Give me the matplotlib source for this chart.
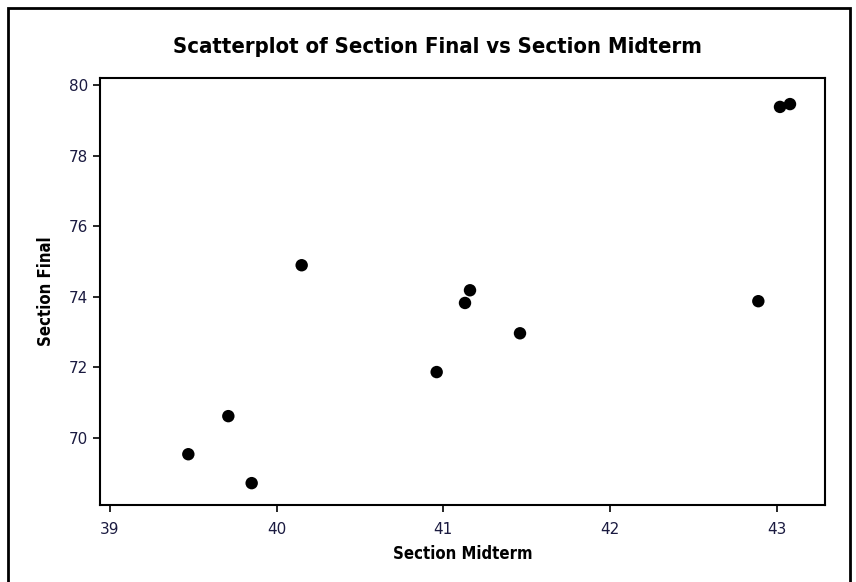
import matplotlib.pyplot as plt
from matplotlib.patches import Rectangle

# --- data ---
midterm = [39.47, 39.71, 39.85, 40.15, 40.96, 41.13, 41.16, 41.46, 42.89, 43.02, 43.08]
final = [69.53, 70.61, 68.71, 74.89, 71.86, 73.82, 74.18, 72.96, 73.87, 79.38, 79.46]
x_ticks = [39, 40, 41, 42, 43]
y_ticks = [70, 72, 74, 76, 78, 80]

fig = plt.figure(figsize=(8.56, 5.82), dpi=100)
ax = fig.add_axes([100 / 856, 1 - 505 / 582, 725 / 856, 427 / 582])

ax.scatter(midterm, final, s=80, c='black', edgecolors='none', zorder=3)

ax.set_xlim(38.94, 43.29)
ax.set_ylim(68.09, 80.2)
ax.set_xticks(x_ticks)
ax.set_yticks(y_ticks)
ax.tick_params(direction='out', length=5, width=1.2, labelsize=11,
               labelcolor='#1a1a40')
ax.tick_params(axis='x', pad=7)
for sp in ax.spines.values():
    sp.set_linewidth(1.5)

# condensed bold text, like the narrow Minitab labels
lab = dict(fontsize=12, fontweight='bold', fontstretch='condensed', family='DejaVu Sans')
ax.set_xlabel('Section Midterm', labelpad=6, **lab)
ax.set_ylabel('Section Final', labelpad=10, **lab)
fig.text(437 / 856, 1 - 47 / 582, 'Scatterplot of Section Final vs Section Midterm',
         ha='center', va='center', fontsize=15.8, fontweight='bold',
         fontstretch='condensed', family='DejaVu Sans')

# outer frame around the graph
fig.patches.append(Rectangle((8 / 856, -0.02), 842 / 856, 1.02 - 8 / 582,
                             transform=fig.transFigure, fill=False,
                             edgecolor='black', linewidth=2))

fig.savefig('out.png', dpi=100)
